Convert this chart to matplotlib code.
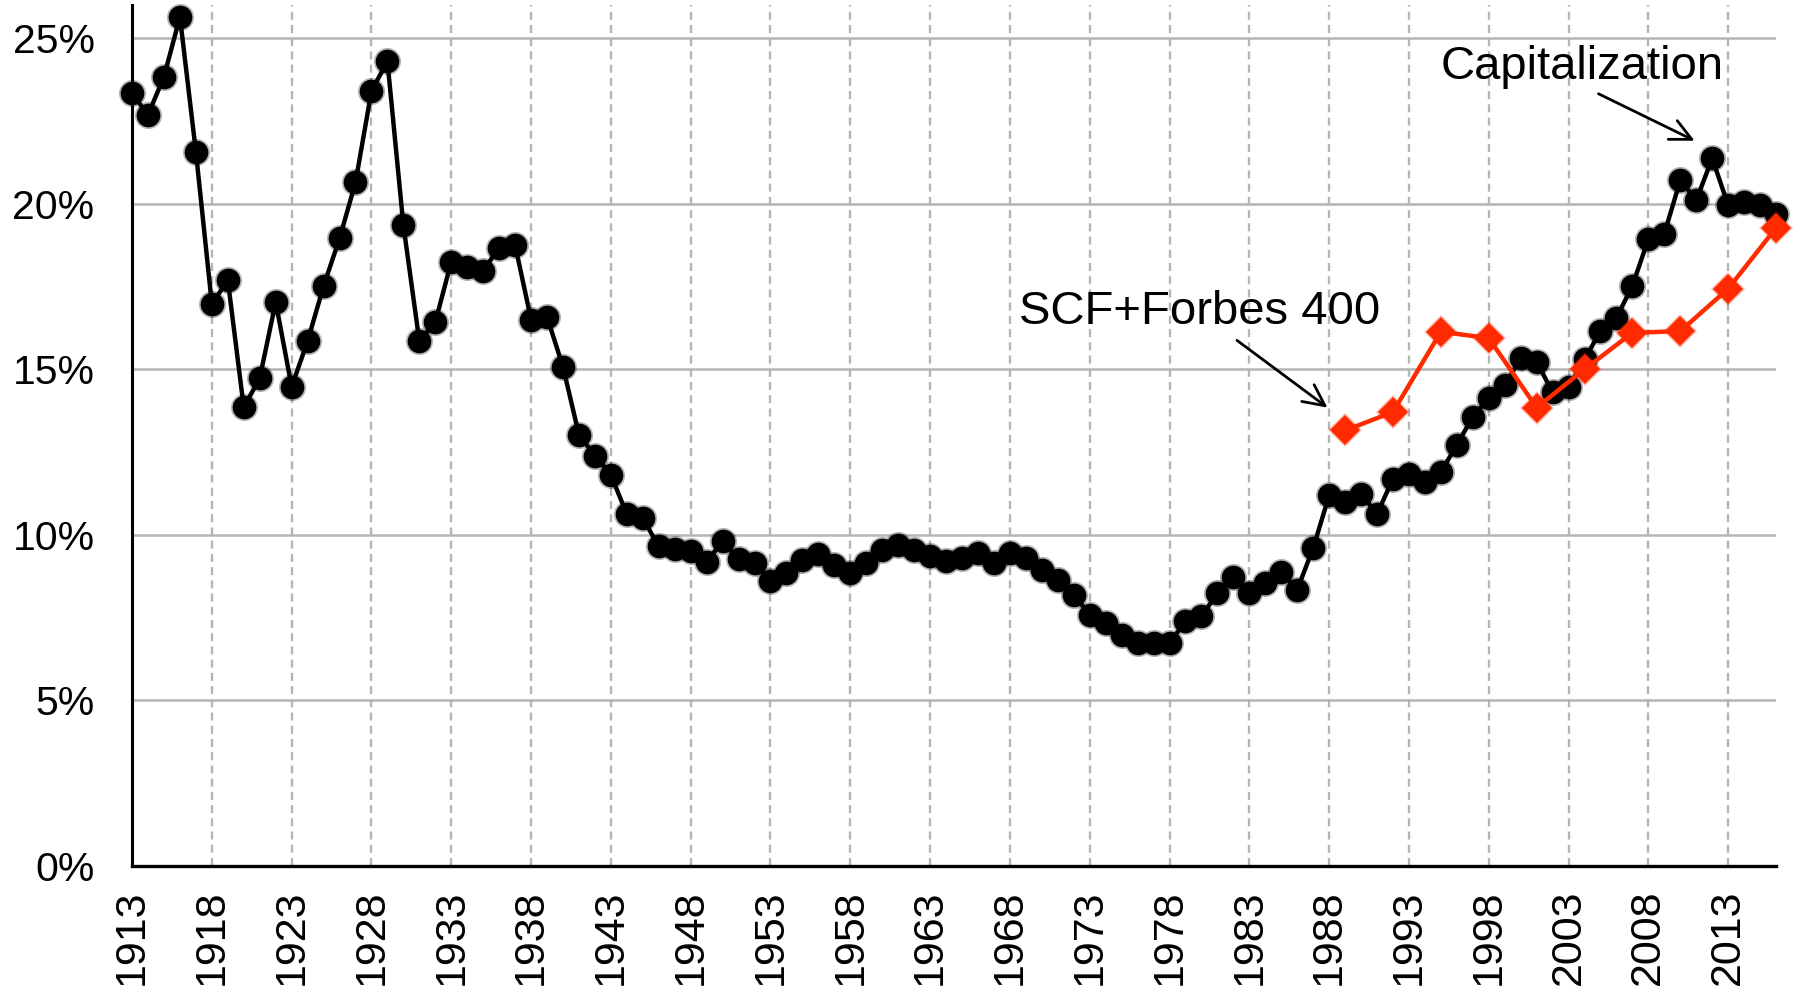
import matplotlib
matplotlib.use("Agg")
import matplotlib.pyplot as plt
import numpy as np

plt.rcParams['font.family'] = ['Liberation Sans', 'DejaVu Sans']

# ---------------- data ----------------
cap_years = list(range(1913, 2017))
cap_values = [
    23.33, 22.68, 23.83, 25.64, 21.57, 16.97, 17.69, 13.85, 14.73, 17.03,  # 1913-1922
    14.47, 15.85, 17.51, 18.95, 20.64, 23.40, 24.30, 19.35, 15.85, 16.42,  # 1923-1932
    18.25, 18.10, 17.98, 18.67, 18.75, 16.50, 16.58, 15.07, 13.02, 12.39,  # 1933-1942
    11.81, 10.62, 10.50, 9.65, 9.57, 9.50, 9.19, 9.80, 9.26, 9.14,         # 1943-1952
    8.59, 8.84, 9.24, 9.42, 9.10, 8.84, 9.14, 9.55, 9.70, 9.55,            # 1953-1962
    9.35, 9.20, 9.30, 9.45, 9.14, 9.45, 9.30, 8.94, 8.64, 8.19,            # 1963-1972
    7.59, 7.34, 6.98, 6.73, 6.73, 6.73, 7.39, 7.54, 8.24, 8.74,            # 1973-1982
    8.24, 8.54, 8.89, 8.34, 9.60, 11.19, 10.99, 11.24, 10.63, 11.69,       # 1983-1992
    11.85, 11.60, 11.90, 12.71, 13.57, 14.12, 14.52, 15.33, 15.23, 14.30,  # 1993-2002
    14.45, 15.30, 16.15, 16.55, 17.52, 18.93, 19.09, 20.71, 20.10, 21.37,  # 2003-2012
    19.95, 20.05, 19.95, 19.70,                                            # 2013-2016
]
scf_years = [1989, 1992, 1995, 1998, 2001, 2004, 2007, 2010, 2013, 2016]
scf_values = [13.15, 13.71, 16.13, 15.94, 13.84, 15.00, 16.10, 16.15, 17.43, 19.27]

xtick_years = list(range(1913, 2014, 5))
ytick_values = [0, 5, 10, 15, 20, 25]
ytick_labels = ["0%", "5%", "10%", "15%", "20%", "25%"]

# ---------------- figure ----------------
fig = plt.figure(figsize=(17.94, 9.89), dpi=100)
ax = fig.add_axes([0.0736, 0.1244, 0.9164, 0.8706])

red = '#ff2a00'

# black series with soft glow
ax.plot(cap_years, cap_values, color='black', lw=3.2, zorder=7, clip_on=False,
        marker='o', markersize=17, markerfacecolor='black',
        markeredgecolor='black', markeredgewidth=0)
ax.plot(cap_years, cap_values, linestyle='none', marker='o', markersize=19.5,
        markerfacecolor='black', markeredgewidth=0, alpha=0.3, zorder=6.9,
        clip_on=False)

# red series
ax.plot(scf_years, scf_values, color=red, lw=3.2, zorder=9, clip_on=False,
        marker='D', markersize=15, markerfacecolor=red,
        markeredgecolor=red, markeredgewidth=0)
ax.plot(scf_years, scf_values, linestyle='none', marker='D', markersize=17,
        markerfacecolor=red, markeredgewidth=0, alpha=0.3, zorder=8.9,
        clip_on=False)

ax.set_xlim(1913, 2016)
ax.set_ylim(0, 26)

ax.set_xticks(xtick_years)
ax.set_xticklabels([str(y) for y in xtick_years], rotation=90, fontsize=31)
ax.set_yticks(ytick_values)
ax.set_yticklabels(ytick_labels, fontsize=29.5)
ax.tick_params(axis='both', length=0)
ax.tick_params(axis='y', pad=27)
ax.tick_params(axis='x', pad=17)

ax.yaxis.grid(True, color='#b5b5b5', lw=1.8, linestyle='-')
ax.xaxis.grid(True, color='#b5b5b5', lw=1.7, linestyle=(0, (3.4, 2.2)))
ax.set_axisbelow(True)

for s in ['top', 'right']:
    ax.spines[s].set_visible(False)
ax.spines['left'].set_linewidth(2.2)
ax.spines['bottom'].set_linewidth(2.4)
ax.spines['left'].set_zorder(6)
ax.spines['bottom'].set_zorder(6)

ax.annotate('SCF+Forbes 400', xy=(1987.9, 13.84), xytext=(1979.9, 16.72),
            fontsize=34, ha='center', va='center', zorder=10,
            arrowprops=dict(arrowstyle='->, head_length=0.45, head_width=0.22',
                            lw=2.0, color='black', shrinkA=4, shrinkB=0,
                            relpos=(0.58, 0.0)))
ax.annotate('Capitalization', xy=(2010.9, 21.9), xytext=(2003.85, 24.14),
            fontsize=34, ha='center', va='center', zorder=10,
            arrowprops=dict(arrowstyle='->, head_length=0.45, head_width=0.22',
                            lw=2.0, color='black', shrinkA=4, shrinkB=0,
                            relpos=(0.52, 0.0)))

fig.savefig('out.png', dpi=100)
